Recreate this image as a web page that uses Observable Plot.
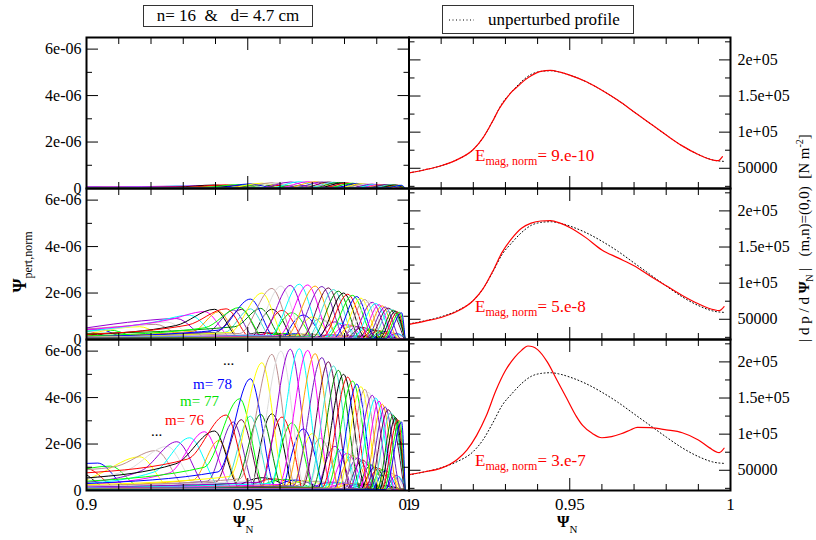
<!DOCTYPE html>
<html><head><meta charset="utf-8">
<script src="https://cdn.jsdelivr.net/npm/d3@7"></script>
<script src="https://cdn.jsdelivr.net/npm/@observablehq/plot@0.6"></script>
<style>
html,body{margin:0;padding:0;background:#fff;}
#wrap{position:relative;width:816px;height:540px;overflow:hidden;font-family:'Liberation Serif','DejaVu Serif','Noto Serif','Times New Roman',Times,serif;color:#000;background:#fff;}
#wrap svg{position:absolute;left:0;top:0;}
.ov{position:absolute;white-space:pre;font-family:'Liberation Serif','DejaVu Serif','Noto Serif','Times New Roman',Times,serif;}
.ov sub{line-height:0;}
.ov sup{line-height:0;}
</style></head><body><div id="wrap">
<div class="ov" style="left:143px;top:5px;width:170px;height:22px;box-sizing:border-box;border:1px solid #333;background:#fff;font-size:17px;line-height:19px;text-align:center;">n= 16  &amp;   d= 4.7 cm</div>
<div class="ov" style="left:442px;top:5px;width:192px;height:29px;box-sizing:border-box;border:1px solid #333;background:#fff;font-size:17px;">
  <svg width="40" height="27" style="position:absolute;left:0;top:0"><line x1="6" y1="14" x2="31" y2="14" stroke="#000" stroke-width="1" stroke-dasharray="1,2.5"/></svg>
  <span style="position:absolute;left:45px;top:4px;line-height:19px">unperturbed profile</span>
</div>
<div class="ov" style="left:475px;top:146px;font-size:17px;line-height:20px;color:#ff0000">E<sub style="font-size:12px;vertical-align:-4px">mag, norm</sub>= 9.e-10</div>
<div class="ov" style="left:475px;top:297px;font-size:17px;line-height:20px;color:#ff0000">E<sub style="font-size:12px;vertical-align:-4px">mag, norm</sub>= 5.e-8</div>
<div class="ov" style="left:475px;top:451px;font-size:17px;line-height:20px;color:#ff0000">E<sub style="font-size:12px;vertical-align:-4px">mag, norm</sub>= 3.e-7</div>
<div class="ov" style="left:223px;top:353px;font-size:15px;line-height:15px;color:#000">...</div>
<div class="ov" style="left:193px;top:377px;font-size:15px;line-height:15px;color:#0000ff">m= 78</div>
<div class="ov" style="left:180px;top:394px;font-size:15px;line-height:15px;color:#00e000">m= 77</div>
<div class="ov" style="left:165px;top:413px;font-size:15px;line-height:15px;color:#ff0000">m= 76</div>
<div class="ov" style="left:151px;top:424px;font-size:15px;line-height:15px;color:#000">...</div>
<div class="ov" style="left:233px;top:514px;font-size:16px;line-height:16px"><b>Ψ</b><sub style="font-size:11px;vertical-align:-6px">N</sub></div>
<div class="ov" style="left:557px;top:514px;font-size:16px;line-height:16px"><b>Ψ</b><sub style="font-size:11px;vertical-align:-6px">N</sub></div>
<div class="ov" style="left:20px;top:262px;font-size:18px;line-height:18px;transform:translate(-50%,-50%) rotate(-90deg)"><b>Ψ</b><sub style="font-size:12px;vertical-align:-6px">pert,norm</sub></div>
<div class="ov" style="left:804px;top:238px;font-size:15px;line-height:15px;transform:translate(-50%,-50%) rotate(-90deg)">| d p / d <b>Ψ</b><sub style="font-size:10px;vertical-align:-4px">N</sub> |   (m,n)=(0,0)  [N m<sup style="font-size:10px;vertical-align:6px">-2</sup>]</div>
</div>
<script>
// ---------- tick values and labels ----------
const xMajor = [0.9, 0.95, 1.0];
const xMinor = [0.91, 0.92, 0.93, 0.94, 0.96, 0.97, 0.98, 0.99];
const xLabels = ["0.9", "0.95", "1"];
const leftMajor = [0, 2, 4, 6];           // units of 1e-6
const leftMinor = [1, 3, 5];
const leftLabels = ["0", "2e-06", "4e-06", "6e-06"];
const rightMajor = [50000, 100000, 150000, 200000];
const rightMinor = [25000, 75000, 125000, 175000, 225000];
const rightLabels = ["50000", "1e+05", "1.5e+05", "2e+05"];

// ---------- harmonics (main lobe), m = 60..108 ----------
const mMain = [60,61,62,63,64,65,66,67,68,69,70,71,72,73,74,75,76,77,78,79,80,81,82,83,84,85,86,87,88,89,90,91,92,93,94,95,96,97,98,99,100,101,102,103,104,105,106,107,108];
const centerMain = [0.8970,0.9000,0.9075,0.9035,0.9165,0.9215,0.9250,0.9280,0.9320,0.9366,
  0.9410,0.9455,0.9480,0.9508,0.9540,0.9397,0.9433,0.9475,0.9508,0.9544,
  0.9575,0.9603,0.9632,0.9660,0.9686,0.9709,0.9730,0.9750,0.9766,0.9781,
  0.9797,0.9810,0.9825,0.9838,0.9851,0.9863,0.9875,0.9886,0.9897,0.9907,
  0.9917,0.9926,0.9935,0.9943,0.9951,0.9958,0.9965,0.9971,0.9977];
const widthLeft = [0.012,0.012,0.012,0.012,0.012,0.012,0.012,0.011,0.011,0.011,
  0.008,0.008,0.008,0.008,0.008,0.012,0.012,0.011,0.010,0.010,
  0.010,0.009,0.009,0.009,0.009,0.009,0.009,0.008,0.008,0.008,
  0.008,0.008,0.008,0.007,0.007,0.007,0.007,0.007,0.007,0.006,
  0.006,0.006,0.006,0.006,0.005,0.005,0.005,0.005,0.005];
const widthRight = [0.010,0.010,0.010,0.010,0.010,0.010,0.010,0.010,0.010,0.009,
  0.007,0.007,0.007,0.007,0.007,0.008,0.008,0.008,0.008,0.0075,
  0.0075,0.0075,0.0075,0.0075,0.0075,0.0075,0.0075,0.007,0.007,0.007,
  0.007,0.007,0.007,0.006,0.006,0.006,0.006,0.006,0.006,0.005,
  0.005,0.005,0.005,0.005,0.005,0.005,0.005,0.005,0.005];
const peakBottom = [0.85,0.95,1.05,1.18,1.45,1.72,1.90,2.10,2.27,2.53,
  2.15,2.95,3.05,3.20,3.28,2.56,3.25,3.95,4.81,5.50,
  5.86,6.00,6.08,6.10,6.03,5.89,5.72,5.54,5.36,5.17,
  5.00,4.88,4.71,4.58,4.47,4.35,4.22,4.10,3.98,3.85,
  3.72,3.60,3.48,3.35,3.24,3.14,3.05,3.00,2.95];
// value of each curve at the left edge (Psi_N = 0.9)
const edgeBottom = [0.85,0.95,0.80,1.05,0.45,0.90,0.50,0.35,0.30,0.25,
  0.20,0.15,0.12,0.10,0.10,0.54,0.76,0.40,0.30,0.25,
  0.20,0.18,0.15,0.12,0.10,0.08,0.09,0.07,0.08,0.06,
  0.07,0.06,0.07,0.05,0.06,0.05,0.04,0.05,0.04,0.04,
  0.04,0.03,0.04,0.03,0.03,0.03,0.02,0.03,0.02];
// value at the foot of the rise (centre minus left width)
const kneeBottom = [0.85,0.95,0.80,1.05,0.75,1.05,0.90,0.85,0.80,0.75,
  0.45,0.40,0.35,0.30,0.30,1.15,1.35,1.00,0.80,0.60,
  0.50,0.42,0.36,0.30,0.26,0.22,0.20,0.18,0.16,0.14,
  0.13,0.12,0.11,0.10,0.10,0.09,0.08,0.08,0.07,0.07,
  0.06,0.06,0.05,0.05,0.05,0.04,0.04,0.04,0.04];
const peakMiddle = [0.30,0.35,0.40,0.45,0.55,0.65,0.75,0.90,1.05,1.20,
  1.20,1.27,1.30,1.32,1.34,1.30,1.32,1.38,1.74,2.00,
  2.20,2.30,2.33,2.38,2.35,2.30,2.28,2.22,2.15,2.08,
  2.00,1.95,1.90,1.85,1.78,1.72,1.66,1.60,1.55,1.50,
  1.45,1.40,1.35,1.30,1.26,1.22,1.19,1.17,1.15];
const edgeMiddle = [0.30,0.35,0.25,0.30,0.20,0.45,0.30,0.50,0.35,0.42,
  0.15,0.12,0.10,0.10,0.25,0.20,0.22,0.15,0.12,0.10,
  0.10,0.09,0.08,0.08,0.07,0.06,0.06,0.05,0.05,0.05,
  0.04,0.04,0.04,0.03,0.04,0.03,0.03,0.03,0.02,0.03,
  0.02,0.02,0.02,0.02,0.02,0.01,0.02,0.01,0.01];
const kneeMiddle = [0.30,0.35,0.30,0.35,0.35,0.55,0.55,0.80,0.75,0.85,
  0.35,0.32,0.30,0.30,0.55,0.60,0.62,0.50,0.40,0.30,
  0.26,0.22,0.20,0.18,0.16,0.14,0.13,0.12,0.11,0.10,
  0.09,0.09,0.08,0.08,0.07,0.07,0.06,0.06,0.05,0.05,
  0.05,0.04,0.04,0.04,0.04,0.03,0.03,0.03,0.03];
const peakTop = [0.04,0.05,0.05,0.06,0.07,0.08,0.09,0.10,0.12,0.13,
  0.13,0.14,0.14,0.15,0.15,0.15,0.16,0.17,0.20,0.23,
  0.25,0.27,0.28,0.29,0.29,0.29,0.28,0.28,0.27,0.26,
  0.25,0.24,0.23,0.22,0.21,0.20,0.20,0.19,0.18,0.18,
  0.17,0.17,0.16,0.16,0.15,0.15,0.14,0.14,0.14];
const edgeTop = [0.04,0.05,0.03,0.04,0.03,0.05,0.04,0.06,0.04,0.05,
  0.02,0.02,0.02,0.02,0.03,0.03,0.03,0.02,0.02,0.02,
  0.02,0.01,0.02,0.01,0.02,0.01,0.01,0.02,0.01,0.01,
  0.01,0.01,0.01,0.01,0.01,0.01,0.01,0.01,0.01,0.01,
  0.01,0.01,0.01,0.01,0.01,0.01,0.01,0.01,0.01];
const kneeTop = [0.04,0.05,0.04,0.05,0.05,0.06,0.06,0.08,0.07,0.08,
  0.04,0.04,0.04,0.04,0.05,0.06,0.06,0.05,0.04,0.04,
  0.03,0.03,0.03,0.03,0.03,0.02,0.02,0.02,0.02,0.02,
  0.02,0.02,0.02,0.02,0.02,0.02,0.02,0.02,0.02,0.02,
  0.02,0.02,0.02,0.02,0.02,0.02,0.02,0.02,0.02];

// ---------- second lobes, m = 75..98 ----------
const mSecond = [75,76,77,78,79,80,81,82,83,84,85,86,87,88,89,90,91,92,93,94,95,96,97,98];
const centerSecond = [0.9575,0.9606,0.9637,0.9672,0.9700,0.9725,0.9748,0.9770,0.9790,0.9808,0.9825,0.9841,0.9856,0.9870,0.9883,0.9895,0.9906,0.9917,0.9927,0.9936,0.9945,0.9953,0.9961,0.9968];
const widthSecond = [0.006,0.006,0.006,0.006,0.0055,0.0055,0.0055,0.005,0.005,0.005,0.005,0.0045,0.0045,0.0045,0.004,0.004,0.004,0.0035,0.0035,0.0035,0.003,0.003,0.003,0.003];
const secondBottom = [3.30,3.16,2.91,2.65,2.45,2.25,2.05,1.90,1.75,1.60,1.50,1.40,1.30,1.20,1.10,1.00,0.95,0.90,0.85,0.80,0.75,0.70,0.65,0.60];
const secondMiddle = [1.30,1.25,1.15,1.05,0.97,0.90,0.82,0.76,0.70,0.64,0.60,0.56,0.52,0.48,0.44,0.40,0.38,0.36,0.34,0.32,0.30,0.28,0.26,0.24];
const secondTop = [0.15,0.14,0.13,0.12,0.11,0.10,0.10,0.09,0.09,0.08,0.08,0.07,0.07,0.06,0.06,0.06,0.05,0.05,0.05,0.04,0.04,0.04,0.04,0.03];

// ---------- third lobes (low floor bumps), m = 75..90 ----------
const mThird = [75,76,77,78,79,80,81,82,83,84,85,86,87,88,89,90];
const centerThird = [0.9545,0.9580,0.9612,0.9648,0.9680,0.9710,0.9738,0.9762,0.9785,0.9808,0.9830,0.9850,0.9870,0.9890,0.9910,0.9930];
const widthThird = [0.009,0.009,0.009,0.008,0.008,0.008,0.007,0.007,0.007,0.006,0.006,0.006,0.005,0.005,0.005,0.004];
const thirdBottom = [0.55,0.50,0.48,0.45,0.42,0.40,0.38,0.36,0.34,0.32,0.30,0.28,0.26,0.24,0.22,0.20];
const thirdMiddle = [0.30,0.28,0.26,0.25,0.24,0.22,0.21,0.20,0.19,0.18,0.17,0.16,0.15,0.14,0.13,0.12];

// ---------- pressure gradient profiles ----------
const profX = [0.900,0.905,0.910,0.915,0.920,0.923,0.926,0.929,0.932,0.935,0.938,0.941,0.944,0.947,0.950,0.955,0.960,0.965,0.970,0.975,0.980,0.985,0.990,0.995,0.998];
const profUnpert = [43500,48000,53500,62000,76000,92000,115000,140000,156000,170000,180000,184000,185000,183000,179000,170000,158000,144000,128000,112000,96000,81000,69000,61000,59500];
const redTopX = [0.900,0.905,0.910,0.915,0.920,0.923,0.926,0.928,0.930,0.932,0.934,0.936,0.938,0.941,0.944,0.947,0.950,0.955,0.960,0.965,0.970,0.975,0.980,0.985,0.990,0.995,0.9962,0.9975];
const redTop = [43500,48000,53500,62000,76000,92000,115000,132000,145000,156000,164000,172000,178000,184000,185500,183000,179000,170000,158000,144000,128000,112000,96000,81000,69000,61000,60500,66000];
const redMiddleX = [0.900,0.905,0.910,0.915,0.920,0.923,0.926,0.929,0.932,0.935,0.938,0.941,0.944,0.947,0.950,0.955,0.960,0.965,0.970,0.975,0.980,0.985,0.990,0.995,0.9965,0.998];
const redMiddle = [43000,47500,52500,61000,76000,92000,116000,143000,162000,176000,183000,186000,186500,183000,177000,163000,146000,135000,124000,110000,96500,83000,71500,63000,62000,67500];
const redBottomX = [0.900,0.905,0.910,0.915,0.918,0.921,0.924,0.927,0.930,0.933,0.935,0.937,0.9385,0.940,0.943,0.946,0.949,0.952,0.954,0.957,0.960,0.963,0.966,0.969,0.971,0.975,0.980,0.985,0.990,0.9935,0.9965,0.998];
const redBottom = [44000,48000,53000,65000,78000,98000,125000,160000,188000,207000,216000,222000,221000,217000,200000,175000,150000,125000,112000,101000,95000,96500,100500,106000,109500,109000,106000,102000,92000,81000,74500,80500];

// ---------- styling ----------
const grace = ["#000000","#ff0000","#00ff00","#0000ff","#ffff00","#bc8f8f","#dcdcdc","#9400d3","#00ffff","#ff00ff","#ffa500","#7221bc","#670748","#40e0d0","#008b00"];
const serif = "'Liberation Serif','DejaVu Serif','Noto Serif','Times New Roman',Times,serif";
const W = 816, H = 540;
const colEdges = [[86, 408.5], [408.5, 730]];
const rowEdges = [[37, 188], [188, 339], [339, 490]];
const wrap = document.getElementById("wrap");

function lobeRows(prefix, ms, centers, wl, wr, peaks, edges, knees, floorCap) {
  const rows = [];
  ms.forEach((m, i) => {
    const c = centers[i], id = prefix + m, color = grace[m % 15];
    const base = edges ? Math.min(edges[i], floorCap) : floorCap;
    const pts = [];
    if (edges) {
      if (c - wl[i] > 0.9) pts.push([0.9, edges[i]]);
      pts.push([c - wl[i], knees[i]]);
    } else {
      pts.push([c - wl[i], base]);
    }
    pts.push([c, peaks[i]]);
    const foot = Math.min(c + wr[i], 0.9988);
    pts.push([foot, base]);
    if (edges && foot < 0.998) pts.push([0.9985, base]);
    for (const [x, y] of pts) rows.push({id, x, y, color});
  });
  return rows;
}

function harmonicRows(peaks, edges, knees, second, third, floorCap) {
  let rows = [];
  if (third) rows = rows.concat(lobeRows("c", mThird, centerThird, widthThird, widthThird, third, null, null, floorCap));
  rows = rows.concat(lobeRows("b", mSecond, centerSecond, widthSecond, widthSecond, second, null, null, floorCap));
  rows = rows.concat(lobeRows("a", mMain, centerMain, widthLeft, widthRight, peaks, edges, knees, floorCap));
  return rows;
}

const leftFmt = d => leftLabels[leftMajor.indexOf(d)];
const rightFmt = d => rightLabels[rightMajor.indexOf(d)];
const xFmt = d => xLabels[xMajor.indexOf(d)];

function panel(col, row, yDomain, dataMarks) {
  const [x0, x1] = colEdges[col], [y0, y1] = rowEdges[row];
  const major = col === 0 ? leftMajor : rightMajor;
  const minor = col === 0 ? leftMinor : rightMinor;
  const marks = [...dataMarks];
  for (const anchor of ["top", "bottom"]) {
    marks.push(Plot.axisX({anchor, ticks: xMinor, tickSize: -6, fill: "none", label: null}));
    marks.push(Plot.axisX({anchor, ticks: xMajor, tickSize: -12, fill: "none", label: null}));
  }
  for (const anchor of ["left", "right"]) {
    marks.push(Plot.axisY({anchor, ticks: minor, tickSize: -6, fill: "none", label: null}));
    marks.push(Plot.axisY({anchor, ticks: major, tickSize: -12, fill: "none", label: null}));
  }
  marks.push(Plot.axisY({anchor: col === 0 ? "left" : "right", ticks: major, tickFormat: col === 0 ? leftFmt : rightFmt,
    tickSize: 0, tickPadding: col === 0 ? 5 : 7, stroke: "none", label: null, fontSize: 16, fontFamily: serif}));
  if (row === 2) marks.push(Plot.axisX({anchor: "bottom", ticks: xMajor, tickFormat: xFmt, tickSize: 0, tickPadding: 7,
    stroke: "none", label: null, fontSize: 17, fontFamily: serif}));
  marks.push(Plot.frame({stroke: "#000", strokeWidth: 2}));
  const svg = Plot.plot({
    width: W, height: H,
    marginLeft: x0, marginRight: W - x1, marginTop: y0, marginBottom: H - y1,
    x: {domain: [0.9, 1.0]},
    y: {domain: yDomain},
    color: {type: "identity"},
    style: {background: "transparent", fontFamily: serif, fontSize: "16px", overflow: "visible"},
    marks
  });
  wrap.insertBefore(svg, wrap.firstChild);
}

function harmonicMark(rows) {
  return Plot.line(rows, {x: "x", y: "y", z: "id", stroke: d => d.color, strokeWidth: 1, curve: "monotone-x", clip: true});
}
function profileMarks(rx, ry) {
  return [
    Plot.line(profX.map((x, i) => ({x, y: profUnpert[i]})), {x: "x", y: "y", stroke: "#000", strokeWidth: 1, strokeDasharray: "1,2.5", curve: "monotone-x", clip: true}),
    Plot.line(rx.map((x, i) => ({x, y: ry[i]})), {x: "x", y: "y", stroke: "#ff0000", strokeWidth: 1.2, curve: "monotone-x", clip: true})
  ];
}

const yLeft = [0, 6.5], yRight = [22000, 231000];
panel(0, 0, yLeft, [harmonicMark(harmonicRows(peakTop, edgeTop, kneeTop, secondTop, null, 0.01))]);
panel(0, 1, yLeft, [harmonicMark(harmonicRows(peakMiddle, edgeMiddle, kneeMiddle, secondMiddle, thirdMiddle, 0.03))]);
panel(0, 2, yLeft, [harmonicMark(harmonicRows(peakBottom, edgeBottom, kneeBottom, secondBottom, thirdBottom, 0.08))]);
panel(1, 0, yRight, profileMarks(redTopX, redTop));
panel(1, 1, yRight, profileMarks(redMiddleX, redMiddle));
panel(1, 2, yRight, profileMarks(redBottomX, redBottom));
</script></body></html>
